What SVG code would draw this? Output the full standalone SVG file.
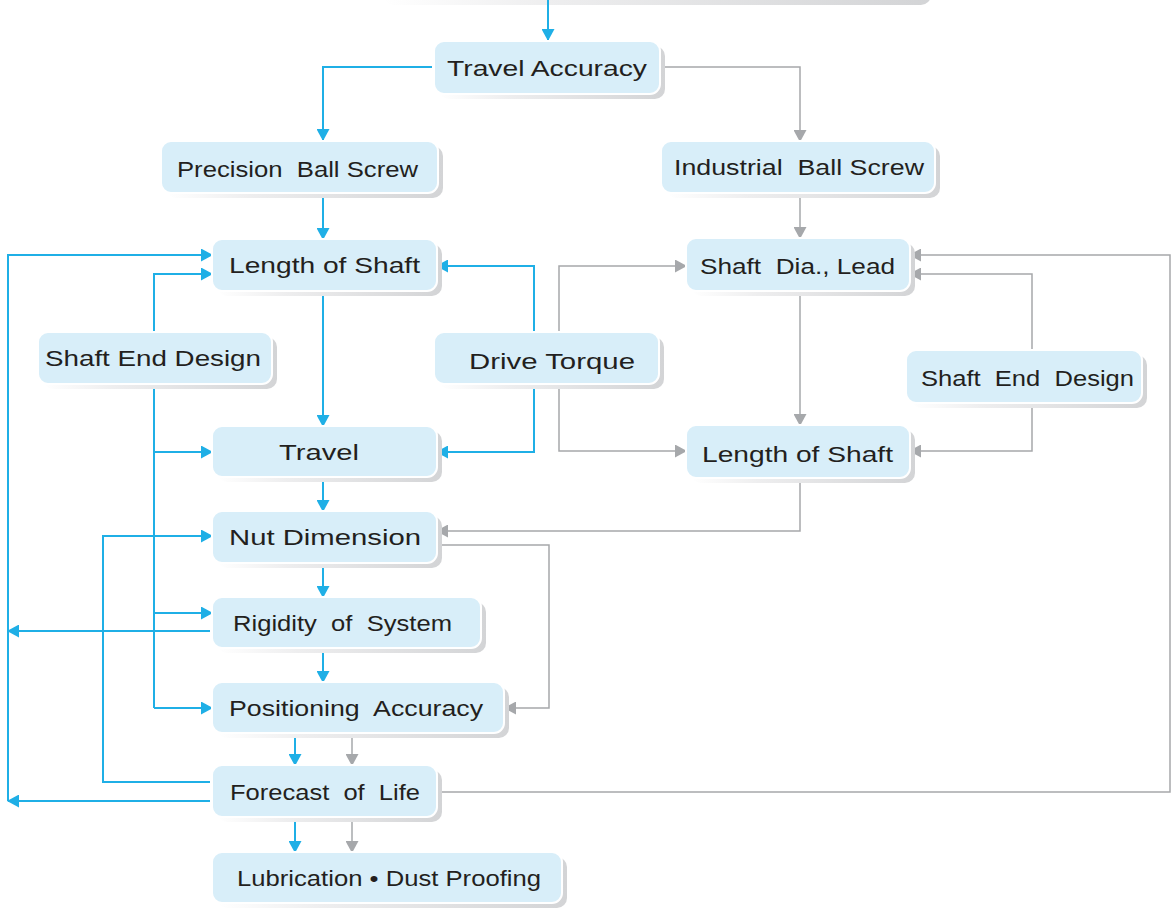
<svg xmlns="http://www.w3.org/2000/svg" width="1176" height="910" viewBox="0 0 1176 910">
<defs>
<style>
.box{fill:#d8eef9;stroke:#ffffff;stroke-width:2}
.sh{fill:url(#shg)}
.t{font-family:"Liberation Sans",Arial,sans-serif;font-size:22px;fill:#231f20;white-space:pre}
.b{fill:none;stroke:#1fafe6;stroke-width:2}
.g{fill:none;stroke:#a6a8ab;stroke-width:1.5}
.ba{fill:none;stroke:#1fafe6;stroke-width:2;marker-end:url(#ab)}
.ga{fill:none;stroke:#a6a8ab;stroke-width:1.5;marker-end:url(#ag)}
</style>
<linearGradient id="shg" x1="0" y1="0" x2="1" y2="0">
<stop offset="0" stop-color="#ffffff"/>
<stop offset="0.3" stop-color="#eeeeef"/>
<stop offset="1" stop-color="#d3d4d6"/>
</linearGradient>
<marker id="ab" markerUnits="userSpaceOnUse" markerWidth="12" markerHeight="13" viewBox="0 0 12 13" refX="11" refY="6.5" orient="auto">
<path d="M0,0 L12,6.5 L0,13 z" fill="#1fafe6"/>
</marker>
<marker id="ag" markerUnits="userSpaceOnUse" markerWidth="12" markerHeight="13" viewBox="0 0 12 13" refX="11" refY="6.5" orient="auto">
<path d="M0,0 L12,6.5 L0,13 z" fill="#a6a8ab"/>
</marker>
</defs>
<rect width="1176" height="910" fill="#ffffff"/>
<g id="top-partial">
<rect x="383" y="-40" width="548" height="45" rx="10" class="sh"/>
</g>
<g id="connectors">
<path class="ba" d="M548,0 V40"/>
<path class="ba" d="M432,67 H323 V140"/>
<path class="ba" d="M323,193 V239"/>
<path class="ba" d="M323,291 V426"/>
<path class="ba" d="M323,477 V511"/>
<path class="ba" d="M323,563 V597"/>
<path class="ba" d="M323,648 V682"/>
<path class="ba" d="M295,733 V765"/>
<path class="ba" d="M295,817 V852"/>
<path class="ba" d="M210,801 H8"/>
<path class="ba" d="M210,631 H8"/>
<path class="ba" d="M8,801 V255 H212"/>
<path class="ba" d="M154,708 V274 H212"/>
<path class="ba" d="M154,452 H212"/>
<path class="ba" d="M154,613 H212"/>
<path class="ba" d="M154,708 H212"/>
<path class="ba" d="M210,782 H103 V536 H212"/>
<path class="ba" d="M534,332 V266 H437"/>
<path class="ba" d="M534,384 V452 H437"/>
<path class="ga" d="M662,67 H800 V141"/>
<path class="ga" d="M800,193 V238"/>
<path class="ga" d="M800,291 V425"/>
<path class="ga" d="M559,332 V266 H686"/>
<path class="ga" d="M559,384 V451 H686"/>
<path class="ga" d="M1032,350 V274 H910"/>
<path class="ga" d="M1032,403 V451 H910"/>
<path class="ga" d="M800,478 V531 H437"/>
<path class="ga" d="M439,545 H549 V708 H505"/>
<path class="ga" d="M439,792 H1170 V255 H910"/>
<path class="ga" d="M352,733 V765"/>
<path class="ga" d="M352,817 V852"/>
</g>
<g id="travel-accuracy">
<rect x="439" y="46" width="226" height="53" rx="10" class="sh"/>
<rect x="434" y="41" width="226" height="53" rx="10" class="box"/>
<text x="447" y="76" class="t" textLength="200" lengthAdjust="spacingAndGlyphs">Travel Accuracy</text>
</g>
<g id="precision-ball-screw">
<rect x="166" y="146" width="277" height="52" rx="10" class="sh"/>
<rect x="161" y="141" width="277" height="52" rx="10" class="box"/>
<text x="177" y="177" class="t" textLength="241" lengthAdjust="spacingAndGlyphs">Precision  Ball Screw</text>
</g>
<g id="industrial-ball-screw">
<rect x="666" y="146" width="274" height="52" rx="10" class="sh"/>
<rect x="661" y="141" width="274" height="52" rx="10" class="box"/>
<text x="674" y="175" class="t" textLength="250" lengthAdjust="spacingAndGlyphs">Industrial  Ball Screw</text>
</g>
<g id="length-of-shaft-left">
<rect x="217" y="244" width="225" height="52" rx="10" class="sh"/>
<rect x="212" y="239" width="225" height="52" rx="10" class="box"/>
<text x="229" y="273" class="t" textLength="191" lengthAdjust="spacingAndGlyphs">Length of Shaft</text>
</g>
<g id="shaft-dia-lead">
<rect x="691" y="243" width="224" height="53" rx="10" class="sh"/>
<rect x="686" y="238" width="224" height="53" rx="10" class="box"/>
<text x="700" y="274" class="t" textLength="195" lengthAdjust="spacingAndGlyphs">Shaft  Dia., Lead</text>
</g>
<g id="shaft-end-design-left">
<rect x="43" y="337" width="234" height="52" rx="10" class="sh"/>
<rect x="38" y="332" width="234" height="52" rx="10" class="box"/>
<text x="45" y="366" class="t" textLength="216" lengthAdjust="spacingAndGlyphs">Shaft End Design</text>
</g>
<g id="drive-torque">
<rect x="439" y="337" width="225" height="52" rx="10" class="sh"/>
<rect x="434" y="332" width="225" height="52" rx="10" class="box"/>
<text x="469" y="369" class="t" textLength="166" lengthAdjust="spacingAndGlyphs">Drive Torque</text>
</g>
<g id="shaft-end-design-right">
<rect x="911" y="355" width="236" height="53" rx="10" class="sh"/>
<rect x="906" y="350" width="236" height="53" rx="10" class="box"/>
<text x="921" y="386" class="t" textLength="213" lengthAdjust="spacingAndGlyphs">Shaft  End  Design</text>
</g>
<g id="travel">
<rect x="217" y="431" width="225" height="51" rx="10" class="sh"/>
<rect x="212" y="426" width="225" height="51" rx="10" class="box"/>
<text x="279" y="460" class="t" textLength="80" lengthAdjust="spacingAndGlyphs">Travel</text>
</g>
<g id="length-of-shaft-right">
<rect x="691" y="430" width="224" height="53" rx="10" class="sh"/>
<rect x="686" y="425" width="224" height="53" rx="10" class="box"/>
<text x="702" y="462" class="t" textLength="191" lengthAdjust="spacingAndGlyphs">Length of Shaft</text>
</g>
<g id="nut-dimension">
<rect x="217" y="516" width="225" height="52" rx="10" class="sh"/>
<rect x="212" y="511" width="225" height="52" rx="10" class="box"/>
<text x="229" y="545" class="t" textLength="192" lengthAdjust="spacingAndGlyphs">Nut Dimension</text>
</g>
<g id="rigidity-of-system">
<rect x="217" y="602" width="269" height="51" rx="10" class="sh"/>
<rect x="212" y="597" width="269" height="51" rx="10" class="box"/>
<text x="233" y="631" class="t" textLength="219" lengthAdjust="spacingAndGlyphs">Rigidity  of  System</text>
</g>
<g id="positioning-accuracy">
<rect x="217" y="687" width="292" height="51" rx="10" class="sh"/>
<rect x="212" y="682" width="292" height="51" rx="10" class="box"/>
<text x="229" y="716" class="t" textLength="254" lengthAdjust="spacingAndGlyphs">Positioning  Accuracy</text>
</g>
<g id="forecast-of-life">
<rect x="217" y="770" width="225" height="52" rx="10" class="sh"/>
<rect x="212" y="765" width="225" height="52" rx="10" class="box"/>
<text x="230" y="800" class="t" textLength="190" lengthAdjust="spacingAndGlyphs">Forecast  of  Life</text>
</g>
<g id="lubrication-dust-proofing">
<rect x="217" y="857" width="350" height="51" rx="10" class="sh"/>
<rect x="212" y="852" width="350" height="51" rx="10" class="box"/>
<text x="237" y="886" class="t" textLength="304" lengthAdjust="spacingAndGlyphs">Lubrication • Dust Proofing</text>
</g>
</svg>
